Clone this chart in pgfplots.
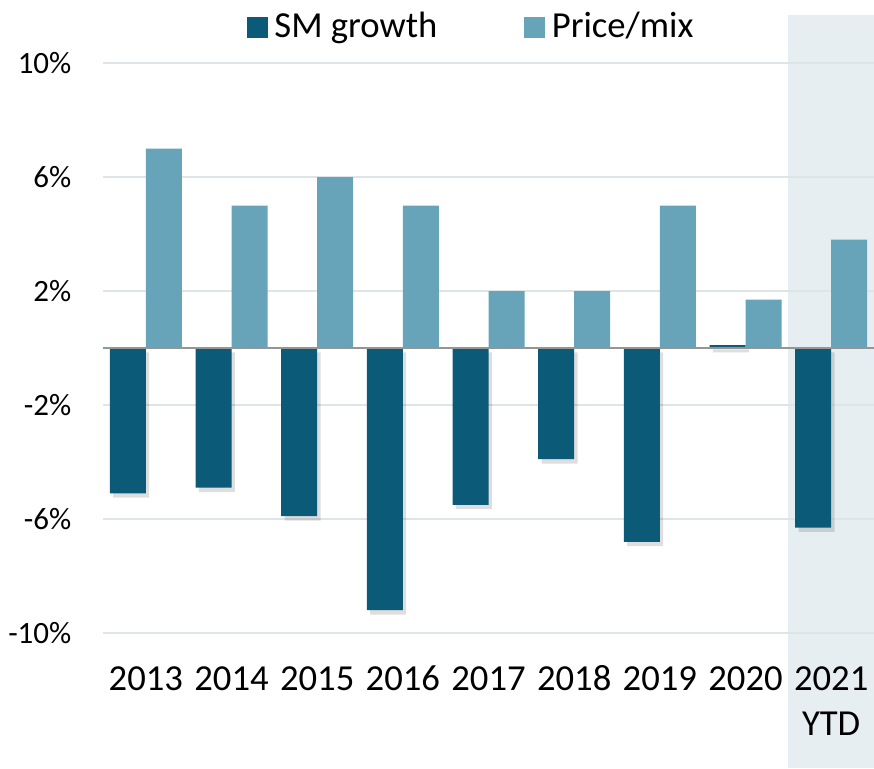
\documentclass[border=0pt]{standalone}
\usepackage{pgfplots}
\pgfplotsset{compat=1.18}
\usepackage{fontspec}
\setmainfont{Carlito}
\definecolor{smc}{HTML}{0B5A78}
\definecolor{pmc}{HTML}{67A3B9}
\definecolor{bandcol}{HTML}{E7EEF1}
\definecolor{gridc}{HTML}{DEE5E8}
\definecolor{zeroc}{HTML}{959595}
\newcommand{\yl}[1]{\raisebox{0pt}[8pt][0pt]{#1}}
\begin{document}
\begin{tikzpicture}
\begin{axis}[
  set layers,
  scale only axis, width=231.3pt, height=171pt,
  xmin=-0.5, xmax=8.5, ymin=-10, ymax=10,
  clip=false,
  axis line style={draw=none},
  major tick length=0pt,
  ytick={-10,-6,-2,2,6,10},
  yticklabels={-10\%,-6\%,-2\%,2\%,6\%,10\%},
  ymajorgrids, grid style={gridc, line width=0.6pt},
  xtick={0,...,8},
  xticklabels={\yl{2013},\yl{2014},\yl{2015},\yl{2016},\yl{2017},\yl{2018},\yl{2019},\yl{2020},{\yl{2021}\\YTD}},
  xticklabel style={align=center, font=\fontsize{11}{13.5}\selectfont, anchor=north, inner sep=0pt, yshift=-9pt},
  yticklabel style={anchor=east, inner sep=0pt, xshift=-9.3pt, font=\fontsize{9.3}{11}\selectfont},
  ybar, bar width=10.8pt,
  legend columns=2,
  legend style={at={(rel axis cs:0.4805,1.063)}, anchor=center, draw=none, fill=none,
    font=\fontsize{11}{13}\selectfont, inner sep=0pt,
    /tikz/every even column/.append style={column sep=24pt}},
]
\begin{pgfonlayer}{axis background}
\fill[bandcol] (axis cs:7.5,-14.74) rectangle (axis cs:8.5,11.68);
\end{pgfonlayer}
\addplot[ybar, bar shift=-4.4pt, fill=black, fill opacity=0.13, draw=none,
  transform canvas={yshift=-1.3pt}, forget plot]
  coordinates {(0,-5.1) (1,-4.9) (2,-5.9) (3,-9.2) (4,-5.5) (5,-3.9) (6,-6.8) (7,0.1) (8,-6.3)};
\addplot[ybar, bar shift=-5.4pt, fill=smc, draw=none,
  legend image code/.code={\fill[smc] (0pt,-3.15pt) rectangle (6.3pt,3.15pt);}]
  coordinates {(0,-5.1) (1,-4.9) (2,-5.9) (3,-9.2) (4,-5.5) (5,-3.9) (6,-6.8) (7,0.1) (8,-6.3)};
\addlegendentry{SM growth}
\addplot[ybar, bar shift=5.4pt, fill=pmc, draw=none,
  legend image code/.code={\fill[pmc] (0pt,-3.15pt) rectangle (6.3pt,3.15pt);}]
  coordinates {(0,7.0) (1,5.0) (2,6.0) (3,5.0) (4,2.0) (5,2.0) (6,5.0) (7,1.7) (8,3.8)};
\addlegendentry{Price/mix}
\draw[zeroc, line width=0.6pt] (axis cs:-0.5,0) -- (axis cs:8.5,0);
\coordinate (bl) at (rel axis cs:0,0);
\coordinate (tr) at (rel axis cs:1,1);
\end{axis}
\pgfresetboundingbox
\path ([shift={(-30.9pt,-40.5pt)}]bl) rectangle ([shift={(0pt,18.9pt)}]tr);
\end{tikzpicture}
\end{document}
